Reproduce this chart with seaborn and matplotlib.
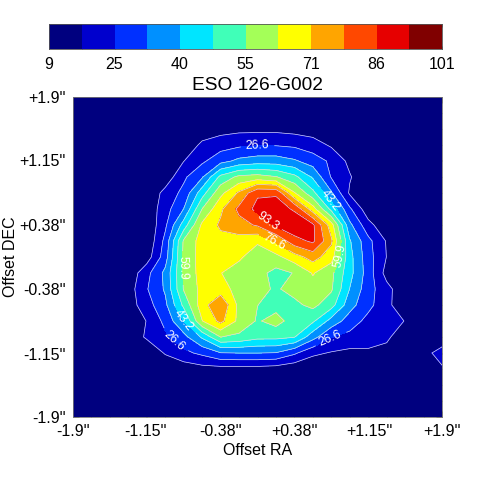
import matplotlib
matplotlib.use('Agg')
import matplotlib.pyplot as plt
import seaborn as sns
import numpy as np

title = 'ESO 126-G002'
tick_pos = [-1.9, -1.15, -0.38, 0.38, 1.15, 1.9]
tick_lab = ["-1.9''", "-1.15''", "-0.38''", "+0.38''", "+1.15''", "+1.9''"]
levels = [5, 18.2, 26.6, 34.9, 43.2, 51.6, 59.9, 68.3, 76.6, 85, 93.3, 101.6, 110]
plain_levels = [18.2, 34.9, 51.6, 68.3, 85]
colors = ['#00007f', '#0000cd', '#0030ff', '#0090ff', '#00e5ff', '#40ffb8',
          '#a4ff58', '#ffff00', '#ffa500', '#ff4800', '#e60000', '#800000']
bar_labels = ['9', '25', '40', '55', '71', '86', '101']

# flux, top row first
r00 = [10]*21
r01 = [10]*21
r02 = [10,10,10,10,10,10,10,13,15,16,16,16,15,14,12,10,10,10,10,10,10]
r03 = [10,10,10,10,10,10,12,20,23,25,26,26,25,22,17,12,10,10,10,10,10]
r04 = [10,10,10,10,10,11,18,25,32,37,39,39,36,31,25,16,11,10,10,10,10]
r05 = [10,10,10,10,10,13,25,34,54,62,63.5,60.5,54,42,26,19,11,10,10,10,10]
r06 = [10,10,10,10,11,21,29,48,66,78,92,92,69,54,36,17,12,10,10,10,10]
r07 = [10,10,10,10,12,23,35,60,75,87,96,98,92,72,49,28,13,10,10,10,10]
r08 = [10,10,10,10,11,25,47,70,78,82,86,95,100,95,72,37,21,12,10,10,10]
r09 = [10,10,10,10,11,29,61,72,74,73,69.5,78,90,95,78,44,29,17.5,10,10,10]
r10 = [10,10,10,10,14,31,62,72,71,69.5,64,66,73,80,72,46,30,18,10,10,10]
r11 = [10,10,10,12,24,37,61,72,68.5,65,63,57,60.3,69,62,46,31,15,10,10,10]
r12 = [10,10,10,14,26,36,60.5,71,72,65,62,59,62.5,65,61,43,30,21,12,10,10]
r13 = [10,10,10,14,23,33,53.5,73,84,66,60,57,58,62,55,38,29,21,11,10,10]
r14 = [10,10,10,12,18.5,29,43,68,79,66,59,63,56,53,40,31,24,21,18,10,10]
r15 = [10,10,10,12,19.5,25,32,44.5,60,58,54,54,52,38,27,24,22.5,20,12,10,12]
r16 = [10,10,10,10,11,19,24.5,28.5,34.5,35,35,34.5,28,20,17.5,16,16.5,15,11,15,22]
r17 = [10,10,10,10,10,11,13,15,15,15,15,14,12,11,10,10,10,10,10,12,17]
r18 = [10]*21
r19 = [10]*21
r20 = [10]*21
flux = np.array([r00, r01, r02, r03, r04, r05, r06, r07, r08, r09, r10,
                 r11, r12, r13, r14, r15, r16, r17, r18, r19, r20])

label_levels = [26.6, 43.2, 59.9, 76.6, 93.3]
label_spots = [[(0.0, 1.32), (-0.87, -1.02), (0.76, -0.98)],
               [(0.74, 0.67), (-0.76, -0.76)],
               [(-0.73, -0.13), (0.86, 0.01)],
               [(0.18, 0.2)],
               [(0.125, 0.46)]]

sns.set_style('ticks')
plt.rcParams['font.family'] = ['Liberation Sans', 'DejaVu Sans']
plt.rcParams['text.color'] = 'black'
plt.rcParams['axes.labelcolor'] = 'black'
plt.rcParams['xtick.labelcolor'] = 'black'
plt.rcParams['ytick.labelcolor'] = 'black'

fig = plt.figure(figsize=(4.91, 4.91), dpi=100)

# colour strip on top
cax = fig.add_axes([49/491, 1-49/491, 393/491, 25/491])
strip = np.arange(12).reshape(1, 12)
sns.heatmap(strip, ax=cax, cmap=sns.color_palette(colors), cbar=False,
            xticklabels=False, yticklabels=False)
cax.set_xticks(np.arange(0, 13, 2))
cax.set_xticklabels(bar_labels, fontsize=11.5, rotation=0)
cax.set_xticks(np.arange(0, 13), minor=True)
cax.tick_params(axis='x', which='both', direction='in', top=True, length=2.5, width=0.5, color='#333333', pad=6)
for s in cax.spines.values():
    s.set_visible(True)
    s.set_linewidth(0.6)
    s.set_color('#555555')

# map
ax = fig.add_axes([73/491, 1-417/491, 369/491, 320/491])
x = np.linspace(-1.9, 1.9, 21)
y = np.linspace(1.9, -1.9, 21)
ax.contourf(x, y, flux, levels=levels, colors=colors)
ax.contour(x, y, flux, levels=plain_levels, colors='#dcdcf0', linewidths=0.5)
for lev, spots in zip(label_levels, label_spots):
    cs = ax.contour(x, y, flux, levels=[lev], colors='#dcdcf0', linewidths=0.5)
    ax.clabel(cs, fmt='%.1f', fontsize=8.7, colors='w', inline=True, manual=spots)

ax.set_xlim(-1.9, 1.9)
ax.set_ylim(-1.9, 1.9)
ax.set_xticks(tick_pos)
ax.set_xticklabels(tick_lab, fontsize=11.5)
ax.set_yticks(tick_pos)
ax.set_yticklabels(tick_lab, fontsize=11.5)
ax.set_xticks(x, minor=True)
ax.set_yticks(x, minor=True)
ax.tick_params(which='major', direction='in', top=True, right=True, length=4, width=0.5, color='#444444', pad=5)
ax.tick_params(which='minor', direction='in', top=True, right=True, length=2, width=0.5, color='#444444')
ax.set_xlabel('Offset RA', fontsize=11.5, labelpad=3)
ax.set_ylabel('Offset DEC', fontsize=11.5, labelpad=1)
ax.set_title(title, fontsize=13.8, pad=5)
for s in ax.spines.values():
    s.set_linewidth(0.6)
    s.set_color('#777777')

fig.savefig('out.png', dpi=100)
